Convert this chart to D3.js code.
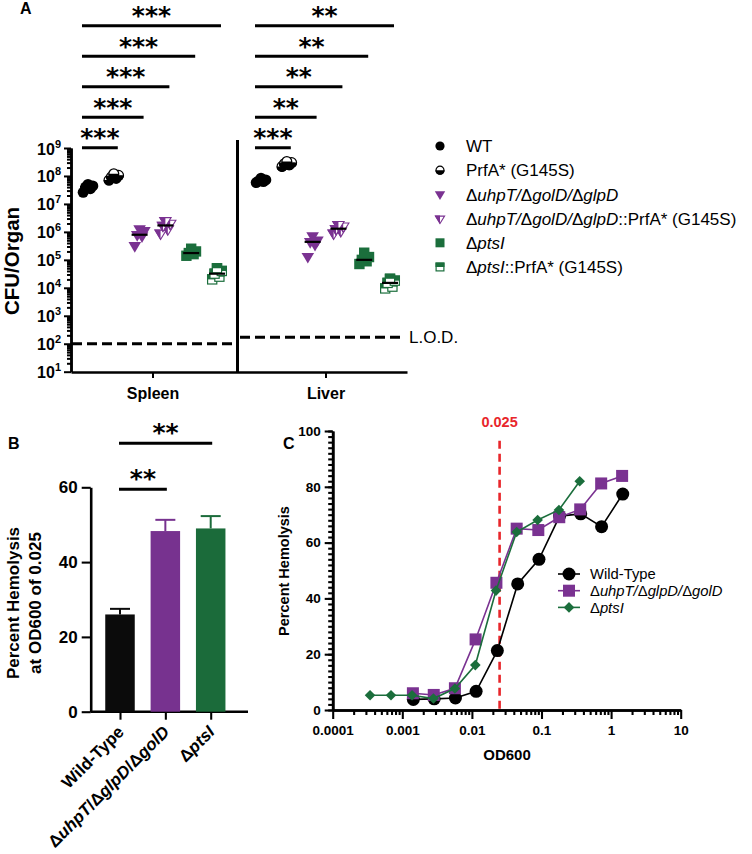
<!DOCTYPE html>
<html>
<head>
<meta charset="utf-8">
<script src="https://cdn.jsdelivr.net/npm/d3@7"></script>
<style>
  body { margin: 0; background: #fff; }
  svg { display: block; font-family: "Liberation Sans", Arial, Helvetica, sans-serif; }
</style>
</head>
<body>
<svg width="752" height="854"></svg>
<script>
// ---------- panel A data ----------
const organs = ["Spleen", "Liver"];
const strainsA = [
  "WT",
  "PrfA* (G145S)",
  "Δ<i>uhpT/</i>Δ<i>golD/</i>Δ<i>glpD</i>",
  "Δ<i>uhpT/</i>Δ<i>golD/</i>Δ<i>glpD</i>::PrfA* (G145S)",
  "Δ<i>ptsI</i>",
  "Δ<i>ptsI</i>::PrfA* (G145S)"
];
const spleenCFU = [
  [2.6e7, 3.5e7, 4.0e7, 4.4e7, 5.0e7],
  [7.1e7, 8.3e7, 9.3e7, 1.05e8, 1.2e8],
  [3.2e5, 7.1e5, 7.9e5, 1.1e6, 1.26e6],
  [8.9e5, 1.26e6, 1.7e6, 2.0e6, 2.5e6],
  [1.4e5, 1.6e5, 1.75e5, 2.0e5, 2.5e5],
  [2.0e4, 2.5e4, 3.2e4, 4.0e4, 5.0e4]
];
const liverCFU = [
  [5.8e7, 6.3e7, 6.6e7, 7.2e7, 8.3e7],
  [2.2e8, 2.5e8, 2.75e8, 3.0e8, 3.3e8],
  [1.3e5, 3.5e5, 4.4e5, 5.0e5, 7.1e5],
  [8.9e5, 1.1e6, 1.3e6, 1.6e6, 1.8e6],
  [7.1e4, 8.9e4, 1.0e5, 1.26e5, 1.8e5],
  [9.5e3, 1.1e4, 1.5e4, 1.8e4, 2.1e4]
];
const lodCFU = [100, 170];            // spleen, liver
const sigSpleen = ["***", "***", "***", "***", "***"];  // WT vs strain 2..6
const sigLiver = ["***", "**", "**", "**", "**"];
const expTicksA = [1, 2, 3, 4, 5, 6, 7, 8, 9];

// ---------- panel B data ----------
const strainsB = ["Wild-Type", "Δ<i>uhpT</i>/Δ<i>glpD</i>/Δ<i>golD</i>", "Δ<i>ptsI</i>"];
const hemolysisB = [26.0, 48.3, 49.0];
const errorB = [1.5, 3.0, 3.3];
const sigB = ["**", "**"];            // Wild-Type vs strain 2, 3
const ticksB = [0, 20, 40, 60];

// ---------- panel C data ----------
const seriesC = ["Wild-Type", "Δ<i>uhpT/</i>Δ<i>glpD/</i>Δ<i>golD</i>", "Δ<i>ptsI</i>"];
const odWT = [0.00144, 0.00287, 0.0058, 0.0115, 0.0232, 0.0455, 0.092, 0.182, 0.366, 0.73, 1.47];
const hemWT = [3.8, 4.0, 4.3, 6.7, 21.3, 45.2, 54.0, 69.5, 70.3, 65.7, 77.4];
const odUhp = [0.00142, 0.00283, 0.0057, 0.0113, 0.0225, 0.044, 0.09, 0.18, 0.36, 0.72, 1.44];
const hemUhp = [6.0, 5.4, 7.8, 25.3, 45.6, 65.0, 64.5, 69.1, 71.9, 81.2, 83.9];
const odPts = [0.000344, 0.000688, 0.00138, 0.0028, 0.0057, 0.0112, 0.0222, 0.044, 0.088, 0.178, 0.354];
const hemPts = [5.3, 5.3, 5.3, 4.1, 7.7, 16.1, 42.8, 63.8, 68.1, 71.7, 82.0];
const cutoffOD = 0.025;
const ticksCx = [1e-4, 1e-3, 1e-2, 1e-1, 1, 10];
const tickLabelsCx = ["0.0001", "0.001", "0.01", "0.1", "1", "10"];
const ticksCy = [0, 20, 40, 60, 80, 100];

// ---------- styles ----------
const black = "#000", purple = "#7a3291", green = "#1b6e3c", red = "#e8262b";
const colorsA = [black, black, purple, purple, green, green];
const shapesA = ["circle", "halfCircle", "tri", "halfTri", "square", "halfSquare"];
const starFont = "'DejaVu Sans', sans-serif";

const svg = d3.select("svg");

function rich(text, markup) {
  let it = false;
  markup.split(/(<\/?i>)/).forEach(part => {
    if (part === "<i>") it = true;
    else if (part === "</i>") it = false;
    else if (part) text.append("tspan").attr("font-style", it ? "italic" : null).text(part);
  });
  return text;
}

function marker(g, shape, color, s) {
  if (shape === "circle") {
    g.append("circle").attr("r", s).attr("fill", color);
  } else if (shape === "halfCircle") {
    g.append("circle").attr("r", s - 0.6).attr("fill", "#fff").attr("stroke", color).attr("stroke-width", 1.2);
    g.append("path").attr("d", `M${-s},0A${s},${s} 0 0 0 ${s},0Z`).attr("fill", color);
  } else if (shape === "tri" || shape === "halfTri") {
    const t = -0.6 * s, b = 1.1 * s;
    if (shape === "tri") {
      g.append("path").attr("d", `M${-s},${t}L${s},${t}L0,${b}Z`).attr("fill", color);
    } else {
      g.append("path").attr("d", `M${-s + 0.6},${t + 0.6}L${s - 0.6},${t + 0.6}L0,${b - 0.8}Z`)
        .attr("fill", "#fff").attr("stroke", color).attr("stroke-width", 1.1);
      g.append("path").attr("d", `M${-s},${t}L0,${t}L0,${b}Z`).attr("fill", color);
    }
  } else if (shape === "square") {
    g.append("rect").attr("x", -s).attr("y", -s).attr("width", 2 * s).attr("height", 2 * s).attr("fill", color);
  } else if (shape === "halfSquare") {
    g.append("rect").attr("x", -s + 0.6).attr("y", -s + 0.6).attr("width", 2 * s - 1.2).attr("height", 2 * s - 1.2)
      .attr("fill", "#fff").attr("stroke", color).attr("stroke-width", 1.2);
    g.append("rect").attr("x", -s).attr("y", -s).attr("width", 2 * s).attr("height", s).attr("fill", color);
  } else if (shape === "diamond") {
    g.append("path").attr("d", `M0,${-s}L${s},0L0,${s}L${-s},0Z`).attr("fill", color);
  }
}

function styleAxis(g, w) {
  g.select(".domain").attr("stroke", black).attr("stroke-width", w);
  g.selectAll(".tick line").attr("stroke", black).attr("stroke-width", w * 0.8);
}

function panelLabel(t, x, y) {
  svg.append("text").attr("x", x).attr("y", y).attr("font-weight", "bold").attr("font-size", 16).text(t);
}

// =================== PANEL A ===================
panelLabel("A", 20, 14);

const yA = d3.scaleLog().domain([10, 1e9]).range([371.7, 148]);
const xA = d3.scalePoint().domain(organs).range([71, 407]).padding(0.471);
const groupStep = 25.8;
const gx = (o, g) => xA(organs[o]) + (g - 2.5) * groupStep;
const jitter = i => ((i * 3) % 5 - 2) * 2.4;

const minorA = [];
expTicksA.slice(0, -1).forEach(e => d3.range(2, 10).forEach(m => minorA.push(m * Math.pow(10, e))));

svg.append("g").attr("transform", "translate(71,0)")
  .call(d3.axisLeft(yA).tickValues(minorA).tickSize(4).tickSizeOuter(0).tickFormat(""))
  .call(styleAxis, 2.5);

const yAxisA = svg.append("g").attr("transform", "translate(71,0)")
  .call(d3.axisLeft(yA).tickValues(expTicksA.map(e => Math.pow(10, e))).tickSize(7).tickSizeOuter(0).tickFormat(""))
  .call(styleAxis, 2.5);
yAxisA.selectAll(".tick").each(function (d) {
  const t = d3.select(this).append("text").attr("x", -10).attr("y", 6)
    .attr("text-anchor", "end").attr("font-weight", "bold").attr("font-size", 16).attr("fill", black);
  t.append("tspan").text("10");
  t.append("tspan").attr("font-size", 11).attr("dy", -7).text(Math.round(Math.log10(d)));
});

const xAxisA = svg.append("g").attr("transform", "translate(0,372)")
  .call(d3.axisBottom(xA).tickSize(6).tickSizeOuter(0).tickPadding(10))
  .call(styleAxis, 2.5);
xAxisA.selectAll(".tick text").attr("font-size", 16).attr("font-weight", "bold").attr("fill", black)
  .attr("font-family", "'Liberation Sans', Arial, sans-serif");

// divider / liver y axis
svg.append("line").attr("x1", 237.5).attr("x2", 237.5).attr("y1", 140).attr("y2", 373)
  .attr("stroke", black).attr("stroke-width", 3);

svg.append("text").attr("transform", "translate(19,261) rotate(-90)")
  .attr("text-anchor", "middle").attr("font-weight", "bold").attr("font-size", 20.5).text("CFU/Organ");

// limits of detection
[[72, 236], [240, 401]].forEach((r, o) => {
  svg.append("line").attr("x1", r[0]).attr("x2", r[1]).attr("y1", yA(lodCFU[o])).attr("y2", yA(lodCFU[o]))
    .attr("stroke", black).attr("stroke-width", 3).attr("stroke-dasharray", "10,5");
});
svg.append("text").attr("x", 409).attr("y", yA(lodCFU[1])).attr("dy", "0.36em")
  .attr("font-size", 17).text("L.O.D.");

// points + medians
[spleenCFU, liverCFU].forEach((groups, o) => {
  groups.forEach((vals, g) => {
    const sz = shapesA[g].includes("ircle") ? 5.5 : shapesA[g].includes("ri") ? 6.3 : 5.2;
    vals.forEach((v, i) => {
      const m = svg.append("g").attr("transform", `translate(${gx(o, g) + jitter(i)},${yA(v)})`);
      marker(m, shapesA[g], colorsA[g], sz);
    });
    const med = d3.median(vals);
    svg.append("line").attr("x1", gx(o, g) - 8).attr("x2", gx(o, g) + 8)
      .attr("y1", yA(med)).attr("y2", yA(med)).attr("stroke", black).attr("stroke-width", 2.2);
  });
});

// significance bars
[sigSpleen, sigLiver].forEach((sig, o) => {
  sig.forEach((s, k) => {
    const ly = 147.7 - k * 30.5;
    const x1 = gx(o, 0) - 6, x2 = gx(o, k + 1) + 4;
    svg.append("line").attr("x1", x1).attr("x2", x2).attr("y1", ly).attr("y2", ly)
      .attr("stroke", black).attr("stroke-width", 3);
    svg.append("text").attr("x", (x1 + x2) / 2).attr("y", ly - 15).attr("dy", "0.55em")
      .attr("text-anchor", "middle").attr("font-family", starFont).attr("font-weight", "bold")
      .attr("font-size", 25).text(s);
  });
});

// legend
strainsA.forEach((s, g) => {
  const ly = 146 + g * 24.2;
  const m = svg.append("g").attr("transform", `translate(440,${ly})`);
  const sz = shapesA[g].includes("ircle") ? 4.6 : shapesA[g].includes("ri") ? 5.2 : 4.5;
  marker(m, shapesA[g], colorsA[g], sz);
  rich(svg.append("text").attr("x", 466).attr("y", ly).attr("dy", "0.36em").attr("font-size", 17), s);
});

// =================== PANEL B ===================
panelLabel("B", 8, 449);

const yB = d3.scaleLinear().domain([0, 60]).range([711.7, 487.3]);
const xB = d3.scalePoint().domain(d3.range(strainsB.length)).range([120, 210.7]);
const colorsB = ["#0b0b0b", "#77328f", "#1b6b3a"];
const barW = 29.5;

svg.append("g").attr("transform", "translate(90.7,0)")
  .call(d3.axisLeft(yB).tickValues(ticksB).tickSize(9).tickSizeOuter(0).tickPadding(4))
  .call(styleAxis, 2.6)
  .call(g => g.selectAll(".tick text").attr("font-size", 17).attr("font-weight", "bold").attr("fill", black)
    .attr("font-family", "'Liberation Sans', Arial, sans-serif"));

const xAxisB = svg.append("g").attr("transform", "translate(0,711.7)")
  .call(d3.axisBottom(xB).tickSize(8).tickSizeOuter(0).tickFormat(""))
  .call(styleAxis, 2.6);
xAxisB.select(".domain").attr("d", "M90.7,0H248");

hemolysisB.forEach((v, i) => {
  const cx = xB(i);
  svg.append("line").attr("x1", cx).attr("x2", cx).attr("y1", yB(v)).attr("y2", yB(v + errorB[i]))
    .attr("stroke", colorsB[i]).attr("stroke-width", 2);
  svg.append("line").attr("x1", cx - 10).attr("x2", cx + 10).attr("y1", yB(v + errorB[i])).attr("y2", yB(v + errorB[i]))
    .attr("stroke", colorsB[i]).attr("stroke-width", 2);
  svg.append("rect").attr("x", cx - barW / 2).attr("y", yB(v)).attr("width", barW)
    .attr("height", yB(0) - yB(v)).attr("fill", colorsB[i]);
  rich(svg.append("text").attr("transform", `translate(${cx + 5},${733}) rotate(-45)`)
    .attr("text-anchor", "end").attr("font-weight", "bold").attr("font-size", 17), strainsB[i]);
});

sigB.forEach((s, k) => {
  const ly = 489.3 - k * 46;
  const x1 = xB(0) - 1, x2 = xB(k + 1) + 1.5;
  svg.append("line").attr("x1", x1).attr("x2", x2).attr("y1", ly).attr("y2", ly)
    .attr("stroke", black).attr("stroke-width", 3);
  svg.append("text").attr("x", (x1 + x2) / 2).attr("y", ly - 16).attr("dy", "0.55em")
    .attr("text-anchor", "middle").attr("font-family", starFont).attr("font-weight", "bold")
    .attr("font-size", 25).text(s);
});

const yLabB = svg.append("text").attr("transform", "translate(19,603) rotate(-90)")
  .attr("text-anchor", "middle").attr("font-weight", "bold").attr("font-size", 17);
yLabB.append("tspan").attr("x", 0).text("Percent Hemolysis");
yLabB.append("tspan").attr("x", 0).attr("dy", 21.5).text("at OD600 of 0.025");

// =================== PANEL C ===================
panelLabel("C", 283, 449);

const xC = d3.scaleLog().domain([1e-4, 10]).range([332.7, 680.7]);
const yC = d3.scaleLinear().domain([0, 100]).range([710, 431]);

const minorCx = [];
ticksCx.slice(0, -1).forEach(t => d3.range(2, 10).forEach(m => minorCx.push(m * t)));

svg.append("g").attr("transform", "translate(0,710)")
  .call(d3.axisBottom(xC).tickValues(minorCx).tickSize(5).tickSizeOuter(0).tickFormat(""))
  .call(styleAxis, 2.6);
svg.append("g").attr("transform", "translate(0,710)")
  .call(d3.axisBottom(xC).tickValues(ticksCx).tickSize(9).tickSizeOuter(0).tickPadding(6)
    .tickFormat((d, i) => tickLabelsCx[i]))
  .call(styleAxis, 2.6)
  .call(g => g.selectAll(".tick text").attr("font-size", 13.5).attr("font-weight", "bold").attr("fill", black)
    .attr("font-family", "'Liberation Sans', Arial, sans-serif"));

svg.append("g").attr("transform", "translate(332.7,0)")
  .call(d3.axisLeft(yC).tickValues(d3.range(0, 101, 2)).tickSize(4.5).tickSizeOuter(0).tickFormat(""))
  .call(styleAxis, 2.6);
svg.append("g").attr("transform", "translate(332.7,0)")
  .call(d3.axisLeft(yC).tickValues(ticksCy).tickSize(8).tickSizeOuter(0).tickPadding(4))
  .call(styleAxis, 2.6)
  .call(g => g.selectAll(".tick text").attr("font-size", 13.5).attr("font-weight", "bold").attr("fill", black)
    .attr("font-family", "'Liberation Sans', Arial, sans-serif"));

svg.append("text").attr("transform", "translate(289,571) rotate(-90)")
  .attr("text-anchor", "middle").attr("font-weight", "bold").attr("font-size", 14.5).text("Percent Hemolysis");
svg.append("text").attr("x", 507).attr("y", 760)
  .attr("text-anchor", "middle").attr("font-weight", "bold").attr("font-size", 15).text("OD600");

// cutoff
svg.append("line").attr("x1", xC(cutoffOD)).attr("x2", xC(cutoffOD)).attr("y1", yC(96.5)).attr("y2", yC(0))
  .attr("stroke", red).attr("stroke-width", 2.6).attr("stroke-dasharray", "8,5");
svg.append("text").attr("x", xC(cutoffOD)).attr("y", 427).attr("text-anchor", "middle")
  .attr("font-weight", "bold").attr("font-size", 14.5).attr("fill", red).text(String(cutoffOD));

const curves = [
  { x: odWT, y: hemWT, color: black, shape: "circle", s: 6.5 },
  { x: odUhp, y: hemUhp, color: purple, shape: "square", s: 6 },
  { x: odPts, y: hemPts, color: green, shape: "diamond", s: 5.3 }
];
const lineC = d3.line().x(d => xC(d[0])).y(d => yC(d[1]));
curves.forEach(c => {
  const pts = c.x.map((x, i) => [x, c.y[i]]);
  svg.append("path").datum(pts).attr("d", lineC).attr("fill", "none")
    .attr("stroke", c.color).attr("stroke-width", 1.6);
  pts.forEach(p => {
    marker(svg.append("g").attr("transform", `translate(${xC(p[0])},${yC(p[1])})`), c.shape, c.color, c.s);
  });
});

// legend C
curves.forEach((c, i) => {
  const ly = 574 + i * 16.7;
  svg.append("line").attr("x1", 558).attr("x2", 580).attr("y1", ly).attr("y2", ly)
    .attr("stroke", c.color).attr("stroke-width", 1.6);
  marker(svg.append("g").attr("transform", `translate(569,${ly})`), c.shape, c.color, c.s);
  rich(svg.append("text").attr("x", 590).attr("y", ly).attr("dy", "0.36em").attr("font-size", 14.8), seriesC[i]);
});
</script>
</body>
</html>
